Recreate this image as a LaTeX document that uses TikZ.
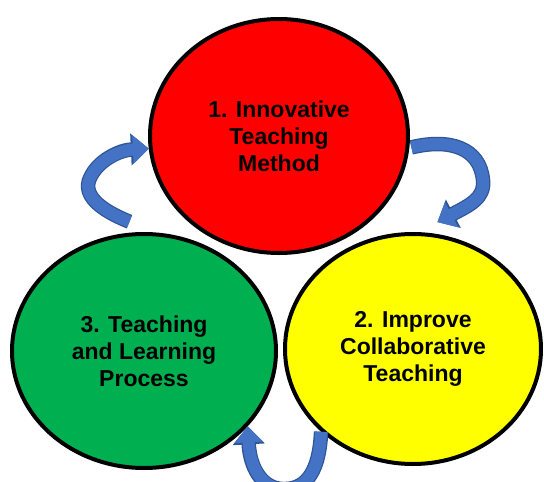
\documentclass[tikz,border=0pt]{standalone}
\usepackage{fontspec}
\setmainfont{Liberation Sans}
\usetikzlibrary{shapes.geometric,arrows.meta}
\definecolor{cred}{HTML}{FF0000}
\definecolor{cgreen}{HTML}{00B050}
\definecolor{cyellow}{HTML}{FFFF00}
\definecolor{arrowblue}{HTML}{4472C4}
\definecolor{arrowedge}{HTML}{2F5597}
\tikzset{
  bubble/.style={ellipse, draw=black, line width=4pt, inner sep=0pt,
    align=center, font=\fontsize{23}{27}\selectfont\bfseries},
  arrowout/.style={line width=14.5pt, draw=arrowedge, -{Triangle[width=31pt,length=18pt]}},
  arrowin/.style={line width=12pt, draw=arrowblue, -{Triangle[width=27.5pt,length=16pt]}},
}
\begin{document}
\begin{tikzpicture}[x=1pt,y=-1pt]
\useasboundingbox (0,0) rectangle (544,482);
\clip (0,0) rectangle (544,482);
\fill[white] (0,0) rectangle (544,482);
\node[bubble, fill=cgreen, minimum width=264pt, minimum height=234pt] (green) at (144,351) {3. Teaching\\and Learning\\Process};
\node[bubble, fill=cyellow, minimum width=256pt, minimum height=230pt] (yellow) at (413,349) {2. Improve\\Collaborative\\Teaching};
\node[bubble, fill=cred, minimum width=258pt, minimum height=234pt] (red) at (279,136) {1. Innovative\\Teaching\\Method};
\foreach \s in {arrowout,arrowin}{
  \draw[\s] ([yshift=11pt]green.97) .. controls (100,210) and (82,195) .. (90,178)
     .. controls (98,160) and (120,150) .. ([yshift=1pt]red.186);
  \draw[\s] ([xshift=2pt]red.-5) .. controls (450,138) and (480,148) .. (483,180)
     .. controls (485,198) and (470,205) .. ([yshift=12pt]yellow.78);
  \draw[\s] (yellow.222) .. controls (319,478) and (302,490) .. (282,489)
     .. controls (262,488) and (250,468) .. (green.-36);
}
\end{tikzpicture}
\end{document}
